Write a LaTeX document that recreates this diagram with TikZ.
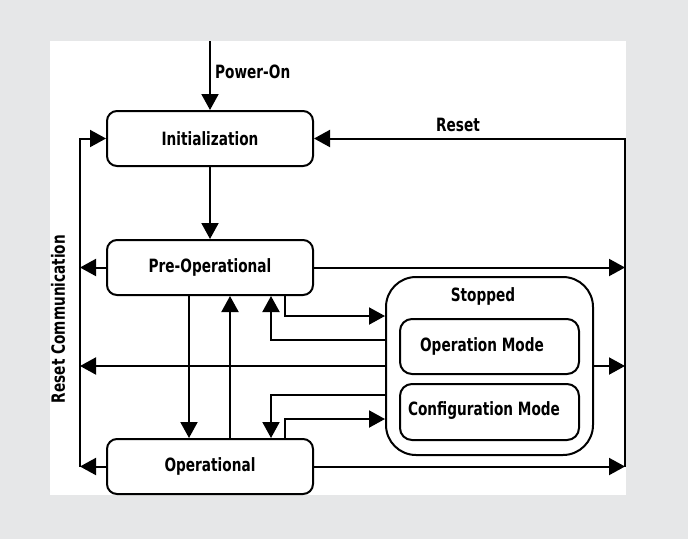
\documentclass[tikz,border=0pt]{standalone}
\usepackage{fontspec}
\usetikzlibrary{arrows.meta}
\newfontfamily\dfont{DejaVu Sans Condensed Bold}[FakeStretch=0.83]
\definecolor{bggray}{RGB}{230,231,232}
\begin{document}
\begin{tikzpicture}[x=1pt,y=-1pt,
  every node/.style={font=\dfont\fontsize{18.3}{20}\selectfont, inner sep=0pt},
  box/.style={draw, line width=2pt, rounded corners=10pt, minimum width=206pt, minimum height=55pt},
  link/.style={line width=2pt, -{Triangle[length=16pt,width=17pt]}},
  plain/.style={line width=2pt}]
\fill[bggray] (0,0) rectangle (688,539);
\fill[white] (50,41) rectangle (626,495);
\useasboundingbox (0,0) rectangle (688,539);

\node[box] (init) at (210,138.5) {Initialization};
\node[box] (preop) at (210,267.5) {Pre-Operational};
\node[box] (op) at (210,466.5) {Operational};

\node[box, rounded corners=30pt, minimum width=207pt, minimum height=178pt] (stop) at (489.5,366) {};
\node[box, rounded corners=12pt, minimum width=179pt, minimum height=55pt] (opm) at (489.5,346.5) {};
\node[box, rounded corners=12pt, minimum width=179pt, minimum height=56pt] (cfm) at (489.5,412) {};
\node (stopT) at (483,296) {Stopped};
\node (opmT) at (482,346) {Operation Mode};
\node (cfmT) at (484,411) {Configuration Mode};

\coordinate (pwr) at (210,41);
\coordinate (rt) at (625,138.5);
\coordinate (rb) at (625,466.5);
\coordinate (lt) at (80,138.5);
\coordinate (lb) at (80,466.5);

\draw[link] (pwr) -- (init.north);
\node[anchor=west] (pwrT) at (215,72) {Power-On};
\draw[link] (init) -- (preop);

\draw[link] (rb) -- (rt) -- (init.east);
\node (resetT) at (458,125) {Reset};
\draw[link] (preop.east) -- (preop.east -| rt);
\draw[link] (stop.east) -- (stop.east -| rt);
\draw[link] (op.east) -- (op.east -| rt);

\draw[link] (lb) -- (lt) -- (init.west);
\draw[link] (preop.west) -- (preop.west -| lt);
\draw[link] (stop.west) -- (stop.west -| lt);
\draw[link] (op.west) -- (op.west -| lt);
\node[rotate=90] (rcT) at (58,319) {Reset Communication};

\draw[link] ([xshift=-21pt]preop.south) -- ([xshift=-21pt]op.north);
\draw[link] ([xshift=20pt]op.north) -- ([xshift=20pt]preop.south);
\draw[link] ([xshift=75pt]preop.south) |- ([yshift=50pt]stop.west);
\draw[link] ([yshift=26pt]stop.west) -| ([xshift=61pt]preop.south);
\draw[link] ([yshift=-29pt]stop.west) -| ([xshift=61pt]op.north);
\draw[link] ([xshift=75pt]op.north) |- ([yshift=-53pt]stop.west);
\end{tikzpicture}
\end{document}
